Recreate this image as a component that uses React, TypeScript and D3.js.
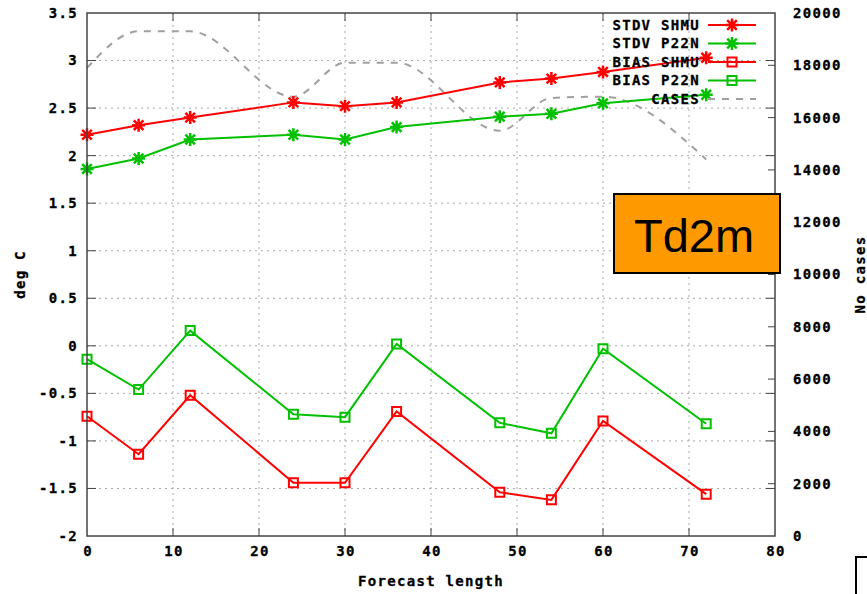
import * as d3 from 'd3'
import { useEffect, useRef } from 'react'

const HOURS = [0, 6, 12, 24, 30, 36, 48, 54, 60, 72]
const STDV_SHMU = [2.22, 2.32, 2.4, 2.56, 2.52, 2.56, 2.77, 2.81, 2.88, 3.03]
const STDV_P22N = [1.86, 1.97, 2.17, 2.22, 2.17, 2.3, 2.41, 2.44, 2.55, 2.64]
const BIAS_SHMU = [-0.74, -1.14, -0.52, -1.44, -1.44, -0.69, -1.54, -1.62, -0.79, -1.56]
const BIAS_P22N = [-0.14, -0.46, 0.16, -0.72, -0.75, 0.02, -0.81, -0.92, -0.03, -0.82]
const CASES = [17900, 19300, 19300, 16800, 18100, 18100, 15500, 16750, 16800, 14400]

const X_TICKS = [0, 10, 20, 30, 40, 50, 60, 70, 80]
const Y_TICKS = [-2, -1.5, -1, -0.5, 0, 0.5, 1, 1.5, 2, 2.5, 3, 3.5]
const Y2_TICKS = [0, 2000, 4000, 6000, 8000, 10000, 12000, 14000, 16000, 18000, 20000]

const SERIES = [
  { name: 'STDV SHMU', values: STDV_SHMU, color: '#ff0000', marker: 'star' },
  { name: 'STDV P22N', values: STDV_P22N, color: '#00c000', marker: 'star' },
  { name: 'BIAS SHMU', values: BIAS_SHMU, color: '#ff0000', marker: 'square' },
  { name: 'BIAS P22N', values: BIAS_P22N, color: '#00c000', marker: 'square' },
]

const STAR = 'M-6.5,0H6.5M0,-6.5V6.5M-4.8,-4.8L4.8,4.8M-4.8,4.8L4.8,-4.8'
const SQUARE = 'M-4.5,-4.5H4.5V4.5H-4.5Z'

export default function App() {
  const ref = useRef<HTMLDivElement>(null)

  useEffect(() => {
    document.body.style.margin = '0'
    const width = 867
    const height = 594
    const left = 87
    const right = 775
    const top = 13
    const bottom = 536
    const font = '"DejaVu Sans Mono", monospace'

    const x = d3.scaleLinear().domain([0, 80]).range([left, right])
    const y = d3.scaleLinear().domain([-2, 3.5]).range([bottom, top])
    const y2 = d3.scaleLinear().domain([0, 20000]).range([bottom, top])

    const svg = d3
      .create('svg')
      .attr('width', width)
      .attr('height', height)
      .attr('viewBox', [0, 0, width, height])
      .style('display', 'block')
      .style('background', '#fff')

    /* grid */
    const grid = svg
      .append('g')
      .attr('stroke', '#a8a8a8')
      .attr('stroke-width', 1)
      .attr('stroke-dasharray', '2,4')
    grid
      .selectAll()
      .data(X_TICKS.slice(1, -1))
      .join('line')
      .attr('x1', (d) => x(d))
      .attr('x2', (d) => x(d))
      .attr('y1', top)
      .attr('y2', bottom)
    grid
      .selectAll()
      .data(Y_TICKS.slice(1, -1))
      .join('line')
      .attr('x1', left)
      .attr('x2', right)
      .attr('y1', (d) => y(d))
      .attr('y2', (d) => y(d))

    /* ticks (inward, mirrored) */
    const ticks = svg.append('g').attr('stroke', '#444').attr('stroke-width', 1)
    ticks
      .selectAll()
      .data(X_TICKS.slice(1, -1))
      .join('path')
      .attr('d', (d) => `M${x(d)},${bottom}v-8M${x(d)},${top}v8`)
    ticks
      .selectAll()
      .data(Y_TICKS.slice(1, -1))
      .join('path')
      .attr('d', (d) => `M${left},${y(d)}h9M${right},${y(d)}h-9`)
    ticks
      .selectAll()
      .data(Y2_TICKS.slice(1, -1))
      .join('path')
      .attr('d', (d) => `M${right},${y2(d)}h-7`)

    /* cases line */
    const caseLine = d3
      .line<number>()
      .x((_, i) => x(HOURS[i]))
      .y((d) => y2(d))
      .curve(d3.curveMonotoneX)
    svg
      .append('path')
      .datum(CASES)
      .attr('fill', 'none')
      .attr('stroke', '#a0a0a0')
      .attr('stroke-width', 2)
      .attr('stroke-dasharray', '7,7')
      .attr('d', caseLine)

    /* data series */
    const line = d3
      .line<number>()
      .x((_, i) => x(HOURS[i]))
      .y((d) => y(d))
    SERIES.forEach((s) => {
      const g = svg.append('g').attr('stroke', s.color).attr('fill', 'none').attr('stroke-width', 2)
      g.append('path').datum(s.values).attr('d', line)
      g.selectAll()
        .data(s.values)
        .join('path')
        .attr('stroke-width', s.marker === 'star' ? 2.5 : 2)
        .attr('transform', (d, i) => `translate(${x(HOURS[i])},${y(d)})`)
        .attr('d', s.marker === 'star' ? STAR : SQUARE)
    })

    /* border */
    svg
      .append('rect')
      .attr('x', left)
      .attr('y', top)
      .attr('width', right - left)
      .attr('height', bottom - top)
      .attr('fill', 'none')
      .attr('stroke', '#444')
      .attr('stroke-width', 1.5)

    /* tick labels */
    const labels = svg
      .append('g')
      .attr('font-family', font)
      .attr('font-weight', 'bold')
      .attr('font-size', 14)
      .attr('letter-spacing', 1.3)
      .attr('fill', '#000')
      .attr('stroke', '#000')
      .attr('stroke-width', 0.3)
    labels
      .selectAll()
      .data(X_TICKS)
      .join('text')
      .attr('x', (d) => x(d) + 1)
      .attr('y', 551)
      .attr('dy', '0.35em')
      .attr('text-anchor', 'middle')
      .text((d) => d)
    labels
      .selectAll()
      .data(Y_TICKS)
      .join('text')
      .attr('x', 78)
      .attr('y', (d) => y(d))
      .attr('dy', '0.35em')
      .attr('text-anchor', 'end')
      .text((d) => d)
    labels
      .selectAll()
      .data(Y2_TICKS)
      .join('text')
      .attr('x', 793)
      .attr('y', (d) => y2(d))
      .attr('dy', '0.35em')
      .text((d) => d)

    /* axis titles */
    labels
      .append('text')
      .attr('x', (left + right) / 2)
      .attr('y', 581)
      .attr('dy', '0.35em')
      .attr('text-anchor', 'middle')
      .text('Forecast length')
    labels
      .append('text')
      .attr('transform', `translate(20,${(top + bottom) / 2}) rotate(-90)`)
      .attr('dy', '0.35em')
      .attr('text-anchor', 'middle')
      .text('deg C')
    labels
      .append('text')
      .attr('transform', `translate(860,${(top + bottom) / 2}) rotate(-90)`)
      .attr('dy', '0.35em')
      .attr('text-anchor', 'middle')
      .text('No cases')

    /* legend */
    const legendNames = [...SERIES.map((s) => s.name), 'CASES']
    const legend = svg.append('g')
    legendNames.forEach((name, i) => {
      const ly = 25 + i * 18.5
      const s = SERIES[i]
      legend
        .append('text')
        .attr('x', 700)
        .attr('y', ly)
        .attr('dy', '0.35em')
        .attr('text-anchor', 'end')
        .attr('font-family', font)
        .attr('font-weight', 'bold')
        .attr('font-size', 14)
        .attr('letter-spacing', 1.3)
        .attr('stroke', '#000')
        .attr('stroke-width', 0.3)
        .text(name)
      const item = legend
        .append('g')
        .attr('fill', 'none')
        .attr('stroke-width', 2)
        .attr('stroke', s ? s.color : '#a0a0a0')
      item
        .append('line')
        .attr('x1', 708)
        .attr('x2', 756)
        .attr('y1', ly)
        .attr('y2', ly)
        .attr('stroke-dasharray', s ? null : '7,7')
      if (s) {
        item
          .append('path')
          .attr('stroke-width', s.marker === 'star' ? 2.5 : 2)
          .attr('transform', `translate(732,${ly})`)
          .attr('d', s.marker === 'star' ? STAR : SQUARE)
      }
    })

    /* Td2m label box */
    svg
      .append('rect')
      .attr('x', 614)
      .attr('y', 194)
      .attr('width', 166)
      .attr('height', 79)
      .attr('fill', '#ff9900')
      .attr('stroke', '#000')
      .attr('stroke-width', 2)
    svg
      .append('text')
      .attr('x', 694)
      .attr('y', 252)
      .attr('text-anchor', 'middle')
      .attr('font-family', '"Liberation Sans", Arial, sans-serif')
      .attr('font-size', 47)
      .text('Td2m')

    /* partial box bottom-right */
    svg
      .append('rect')
      .attr('x', 856)
      .attr('y', 557)
      .attr('width', 40)
      .attr('height', 60)
      .attr('fill', 'none')
      .attr('stroke', '#000')
      .attr('stroke-width', 2)

    const node = svg.node()
    if (ref.current && node) {
      ref.current.innerHTML = ''
      ref.current.appendChild(node)
    }
  }, [])

  return <div ref={ref} />
}
